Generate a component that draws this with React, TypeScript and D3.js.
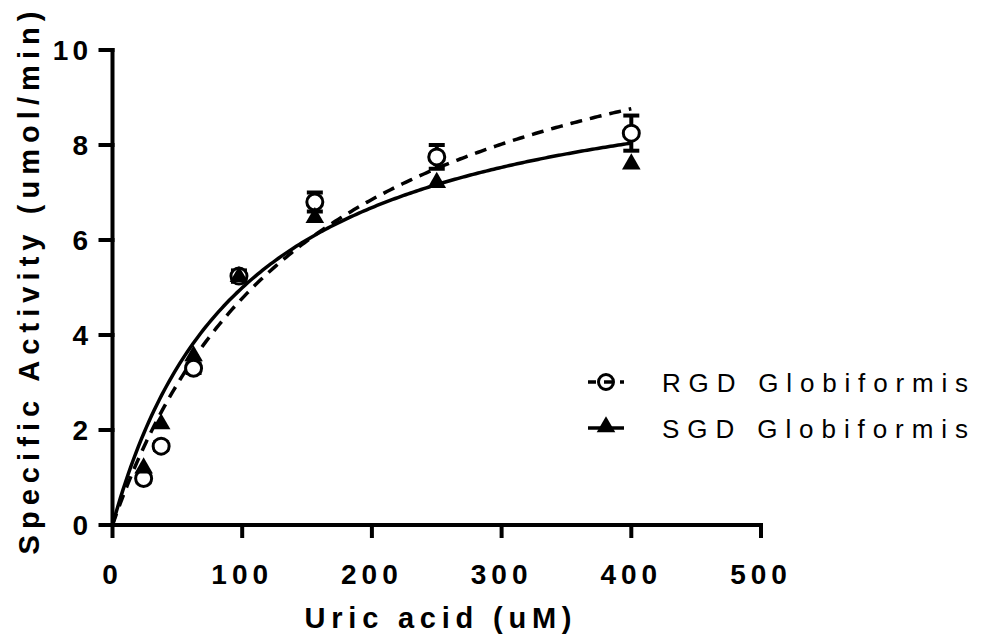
import React from "react";
import * as d3 from "d3";

const concentrations = [24, 37.5, 62.5, 97.5, 156, 250, 400];
const rgdActivity = [0.98, 1.66, 3.3, 5.24, 6.8, 7.75, 8.25];
const rgdError = [0.08, 0.08, 0.1, 0.12, 0.2, 0.25, 0.37];
const sgdActivity = [1.22, 2.15, 3.58, 5.25, 6.49, 7.23, 7.62];
const sgdError = [0.05, 0.05, 0.06, 0.08, 0.1, 0.08, 0.1];
// Michaelis-Menten fit parameters
const rgdFit = { vmax: 12.15, km: 154.6 };
const sgdFit = { vmax: 10.09, km: 102 };
const xTicks = [0, 100, 200, 300, 400, 500];
const yTicks = [0, 2, 4, 6, 8, 10];
const seriesNames = ["RGD Globiformis", "SGD Globiformis"];

const W = 985;
const H = 636;
const FONT = "'Liberation Sans', Arial, Helvetica, sans-serif";

export default function App() {
  const x = d3.scaleLinear().domain([0, 500]).range([112.5, 761]);
  const y = d3.scaleLinear().domain([0, 10]).range([525, 50]);

  const fitPts = (p: { vmax: number; km: number }) =>
    d3.range(0, 401, 2).map((c) => [c, (p.vmax * c) / (p.km + c)] as [number, number]);
  const line = d3
    .line<[number, number]>()
    .x((d) => x(d[0]))
    .y((d) => y(d[1]))
    .curve(d3.curveLinear);

  const tri = d3.symbol().type(d3.symbolTriangle).size(150)();
  const legY = [382, 428];

  return (
    <svg width={W} height={H} style={{ display: "block", position: "absolute", left: 0, top: 0 }}>
      <rect width={W} height={H} fill="#fff" />
      {/* fit curves */}
      <path d={line(fitPts(sgdFit)) || ""} fill="none" stroke="#000" strokeWidth={3.5} />
      <path
        d={line(fitPts(rgdFit)) || ""}
        fill="none"
        stroke="#000"
        strokeWidth={3.5}
        strokeDasharray="12 8"
      />
      {/* axes */}
      <g stroke="#000" strokeWidth={4} strokeLinecap="square">
        <line x1={x(0)} x2={x(500)} y1={y(0)} y2={y(0)} />
        <line x1={x(0)} x2={x(0)} y1={y(0)} y2={y(10)} />
        {xTicks.map((t) => (
          <line key={"xt" + t} x1={x(t)} x2={x(t)} y1={y(0)} y2={y(0) + 11} />
        ))}
        {yTicks.map((t) => (
          <line key={"yt" + t} x1={x(0) - 12} x2={x(0)} y1={y(t)} y2={y(t)} />
        ))}
      </g>
      <g fontFamily={FONT} fontWeight="bold" fontSize={28} fill="#000">
        {xTicks.map((t) => (
          <text key={"xl" + t} x={x(t)} y={584} textAnchor="middle" letterSpacing={5}>
            {t}
          </text>
        ))}
        {yTicks.map((t) => (
          <text key={"yl" + t} x={92} y={y(t) + 10} textAnchor="end" letterSpacing={4}>
            {t}
          </text>
        ))}
      </g>
      {/* error bars RGD */}
      <g stroke="#000" strokeWidth={4}>
        {concentrations.map((c, i) => (
          <g key={"er" + i}>
            <line x1={x(c)} x2={x(c)} y1={y(rgdActivity[i] - rgdError[i])} y2={y(rgdActivity[i] + rgdError[i])} />
            <line x1={x(c) - 8} x2={x(c) + 8} y1={y(rgdActivity[i] + rgdError[i])} y2={y(rgdActivity[i] + rgdError[i])} />
            <line x1={x(c) - 8} x2={x(c) + 8} y1={y(rgdActivity[i] - rgdError[i])} y2={y(rgdActivity[i] - rgdError[i])} />
          </g>
        ))}
        {concentrations.map((c, i) => (
          <g key={"es" + i}>
            <line x1={x(c)} x2={x(c)} y1={y(sgdActivity[i] - sgdError[i])} y2={y(sgdActivity[i] + sgdError[i])} />
          </g>
        ))}
      </g>
      {/* markers */}
      {concentrations.map((c, i) => (
        <circle key={"c" + i} cx={x(c)} cy={y(rgdActivity[i])} r={8} fill="#fff" stroke="#000" strokeWidth={3} />
      ))}
      {concentrations.map((c, i) => (
        <path key={"t" + i} d={tri || ""} transform={`translate(${x(c)},${y(sgdActivity[i]) + 1})`} fill="#000" />
      ))}
      {/* legend */}
      <g>
        <line x1={588} x2={624} y1={legY[0]} y2={legY[0]} stroke="#000" strokeWidth={3.5} strokeDasharray="8 8" />
        <circle cx={606} cy={legY[0]} r={7.5} fill="none" stroke="#000" strokeWidth={3} />
        <line x1={588} x2={624} y1={legY[1]} y2={legY[1]} stroke="#000" strokeWidth={3.5} />
        <path d={tri || ""} transform={`translate(606,${legY[1] - 1})`} fill="#000" />
        <g fontFamily={FONT} fontSize={26} fill="#000">
          <text x={662} y={legY[0] + 9.5} textLength={306} lengthAdjust="spacing">
            {seriesNames[0]}
          </text>
          <text x={662} y={legY[1] + 9.5} textLength={306} lengthAdjust="spacing">
            {seriesNames[1]}
          </text>
        </g>
      </g>
      {/* axis titles */}
      <g fontFamily={FONT} fontWeight="bold" fontSize={29} fill="#000">
        <text x={438} y={628} textAnchor="middle" textLength={267} lengthAdjust="spacing">
          Uric acid (uM)
        </text>
        <text
          transform="translate(39,283) rotate(-90)"
          textAnchor="middle"
          textLength={543}
          lengthAdjust="spacing"
        >
          Specific Activity (umol/min)
        </text>
      </g>
    </svg>
  );
}
